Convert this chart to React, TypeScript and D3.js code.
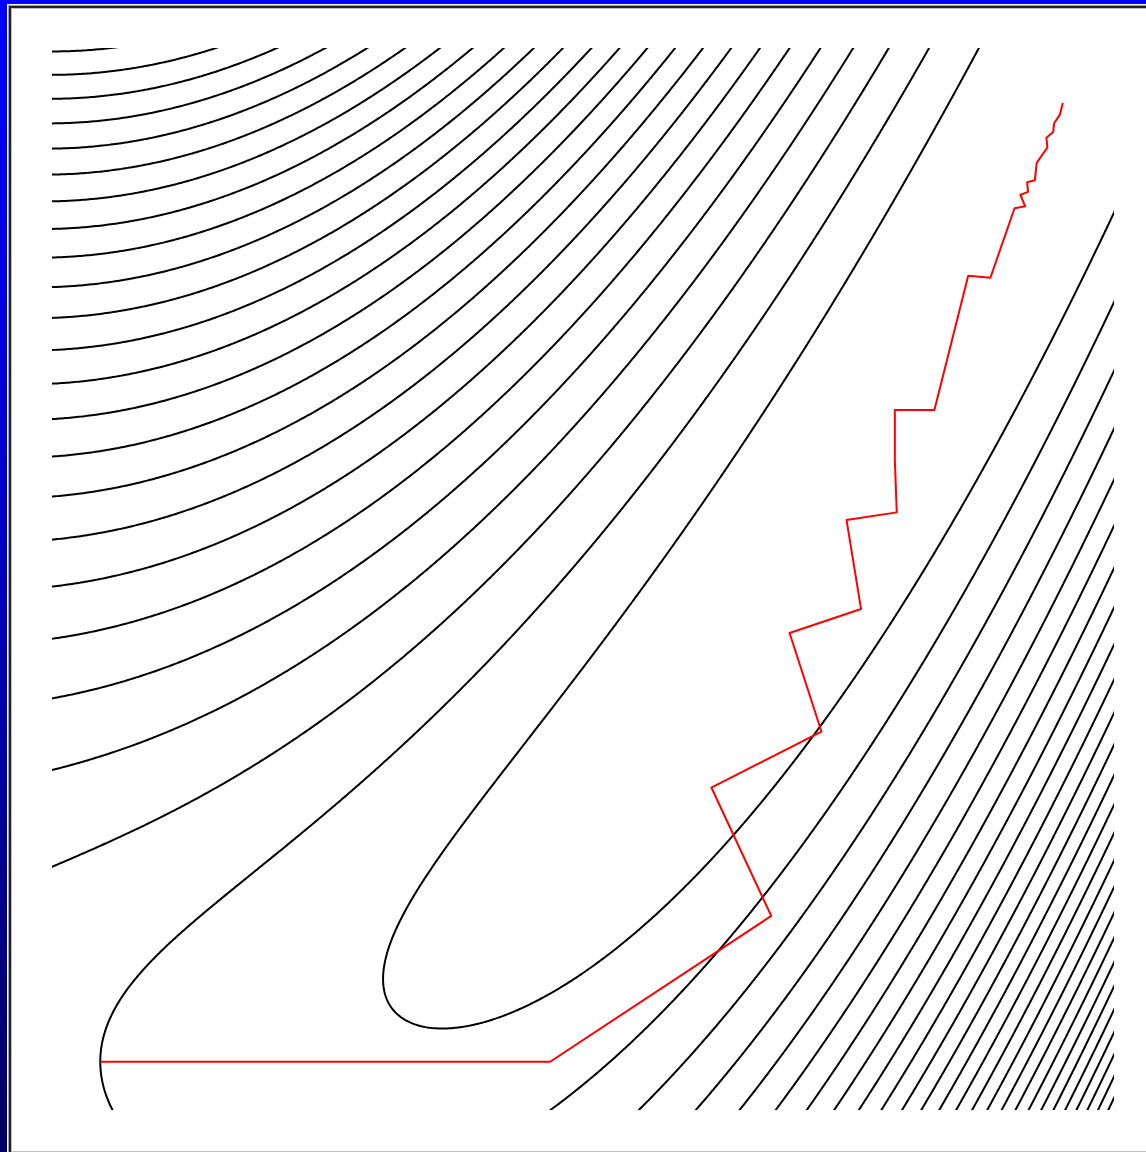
import React, { useMemo } from "react";
import * as d3 from "d3";

// Canvas and plot-frame geometry
const W = 1146;
const H = 1152;
const PLOT = { left: 52, right: 1114, top: 48, bottom: 1110 };

// Visible domain of the banana valley f(x, y) = (1 - x)^2 + 10 (y - x^2)^2
const X_DOMAIN: [number, number] = [-0.05, 1.05];
const Y_DOMAIN: [number, number] = [-0.05, 1.05];
const VALLEY_WEIGHT = 10;

// Contour levels
const LEVELS = [
  0.5, 1, 1.5, 2, 2.5, 3, 3.5, 4, 4.5, 5, 5.5, 6, 6.5, 7, 7.5, 8, 8.5, 9, 9.5,
  10, 10.5, 11, 11.5, 12, 12.5, 13,
];

// Optimizer trajectory from (0, 0) towards the minimum at (1, 1)
const PATH_X = [
  0, 0.466, 0.695, 0.633, 0.747, 0.714, 0.788, 0.773, 0.825, 0.823, 0.823,
  0.864, 0.899, 0.922, 0.947, 0.958, 0.953, 0.961, 0.96, 0.968, 0.97, 0.981,
  0.98, 0.987, 0.988, 0.994, 0.997,
];
const PATH_Y = [
  0, 0, 0.151, 0.284, 0.342, 0.444, 0.469, 0.561, 0.569, 0.623, 0.675, 0.675,
  0.814, 0.812, 0.884, 0.886, 0.898, 0.901, 0.911, 0.913, 0.931, 0.947, 0.957,
  0.963, 0.972, 0.981, 0.993,
];

const f = (x: number, y: number) =>
  (1 - x) * (1 - x) + VALLEY_WEIGHT * (y - x * x) * (y - x * x);

export default function App() {
  const xScale = d3
    .scaleLinear()
    .domain(X_DOMAIN)
    .range([PLOT.left, PLOT.right]);
  const yScale = d3
    .scaleLinear()
    .domain(Y_DOMAIN)
    .range([PLOT.bottom, PLOT.top]);

  const contourPaths = useMemo(() => {
    // sample on a grid a bit wider than the frame; the clip trims the borders
    const n = 560;
    const gx0 = -0.12,
      gx1 = 1.12,
      gy0 = -0.12,
      gy1 = 1.12;
    const values = new Float64Array(n * n);
    for (let j = 0; j < n; j++) {
      const y = gy0 + (j / (n - 1)) * (gy1 - gy0);
      for (let i = 0; i < n; i++) {
        const x = gx0 + (i / (n - 1)) * (gx1 - gx0);
        values[j * n + i] = f(x, y);
      }
    }
    const gen = d3.contours().size([n, n]).thresholds(LEVELS);
    const toX = (c: number) => xScale(gx0 + ((c - 0.5) / (n - 1)) * (gx1 - gx0));
    const toY = (c: number) => yScale(gy0 + ((c - 0.5) / (n - 1)) * (gy1 - gy0));
    const line = d3
      .line<[number, number]>()
      .x((p) => toX(p[0]))
      .y((p) => toY(p[1]));
    return gen(Array.from(values)).map((mp) => {
      const parts: string[] = [];
      for (const poly of mp.coordinates) {
        for (const ring of poly) {
          parts.push(line(ring as [number, number][]) || "");
        }
      }
      return { level: mp.value, d: parts.join("") };
    });
  }, []);

  const pathPoints = PATH_X.map((x, i) => [x, PATH_Y[i]] as [number, number]);
  const trajectory =
    d3
      .line<[number, number]>()
      .x((p) => xScale(p[0]))
      .y((p) => yScale(p[1]))(pathPoints) || "";

  return (
    <div style={{ position: "absolute", left: 0, top: 0 }}>
      <svg width={W} height={H} style={{ display: "block" }}>
        <defs>
          <linearGradient id="frameBlue" x1="0" y1="0" x2="0" y2="1">
            <stop offset="0" stopColor="#0000ff" />
            <stop offset="0.45" stopColor="#0000c8" />
            <stop offset="1" stopColor="#000064" />
          </linearGradient>
          <clipPath id="plotClip">
            <rect
              x={PLOT.left}
              y={PLOT.top}
              width={PLOT.right - PLOT.left}
              height={PLOT.bottom - PLOT.top}
            />
          </clipPath>
        </defs>
        {/* window frame */}
        <rect x={0} y={0} width={W} height={H} fill="url(#frameBlue)" />
        <rect x={7} y={4} width={W - 7} height={H - 4} fill="#ffffff" />
        <rect x={8} y={5} width={W - 8} height={1} fill="#a0a0a0" />
        <rect x={8} y={5} width={1} height={H - 5} fill="#a0a0a0" />
        <rect x={9} y={6} width={W - 9} height={2} fill="#202020" />
        <rect x={9} y={6} width={2} height={H - 6} fill="#202020" />
        <rect x={11} y={8} width={W - 11} height={1} fill="#c0c0c0" />
        <rect x={11} y={8} width={1} height={H - 8} fill="#c0c0c0" />
        <rect x={12} y={9} width={W - 12} height={H - 10} fill="#ffffff" />
        <rect x={12} y={H - 1} width={W - 12} height={1} fill="#c0c0c0" />

        {/* level curves */}
        <g clipPath="url(#plotClip)">
          {contourPaths.map((c) => (
            <path
              key={c.level}
              d={c.d}
              fill="none"
              stroke="#000000"
              strokeWidth={2}
            />
          ))}
        </g>

        {/* search trajectory */}
        <path
          d={trajectory}
          fill="none"
          stroke="#ff0000"
          strokeWidth={2}
          strokeLinejoin="round"
        />
      </svg>
    </div>
  );
}
